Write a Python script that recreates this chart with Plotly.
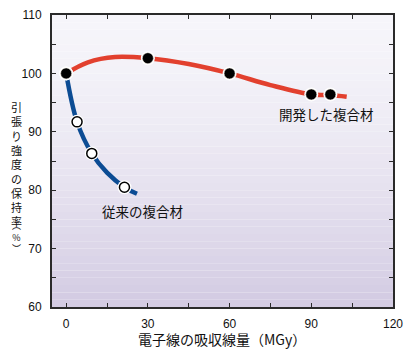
import plotly.graph_objects as go

# Data
dev_x = [0, 30, 60, 90, 97]
dev_y = [100, 102.6, 100, 96.4, 96.4]
dev_curve_x = [0, 8, 18, 30, 45, 60, 75, 90, 97, 103]
dev_curve_y = [100, 101.9, 102.8, 102.6, 101.6, 100, 98.0, 96.4, 96.3, 96.0]

conv_x = [0, 4, 9.4, 21.4]
conv_y = [100, 91.7, 86.3, 80.5]
conv_curve_x = [0, 4, 9.4, 15, 21.4, 26]
conv_curve_y = [100, 91.7, 86.3, 83.0, 80.5, 79.4]

x_ticks = [0, 30, 60, 90, 120]
y_ticks = [60, 70, 80, 90, 100, 110]
ytitle_chars = ["引", "張", "り", "強", "度", "の", "保", "持", "率"]
ytitle_tail = ["︵", "%", "︶"]

W, H = 410, 356
L, R, T, B = 52, 17, 15, 49
PW, PH = W - L - R, H - T - B

fig = go.Figure()

# lines
fig.add_trace(go.Scatter(x=dev_curve_x, y=dev_curve_y, mode="lines",
                         line=dict(color="#e2402e", width=4.5, shape="spline"),
                         hoverinfo="skip", showlegend=False))
fig.add_trace(go.Scatter(x=conv_curve_x, y=conv_curve_y, mode="lines",
                         line=dict(color="#0c4c94", width=4.5, shape="spline"),
                         hoverinfo="skip", showlegend=False))
# halos
fig.add_trace(go.Scatter(x=dev_x + conv_x, y=dev_y + conv_y, mode="markers",
                         marker=dict(size=14, color="white"),
                         showlegend=False, hoverinfo="skip"))
# markers
fig.add_trace(go.Scatter(x=conv_x[1:], y=conv_y[1:], mode="markers",
                         marker=dict(size=10, color="white", line=dict(color="black", width=1.5)),
                         showlegend=False))
fig.add_trace(go.Scatter(x=dev_x, y=dev_y, mode="markers",
                         marker=dict(size=11, color="black", line=dict(color="#f4eee6", width=0.5)),
                         showlegend=False))

# gradient background
n = 40
shapes = []
top = (246, 245, 250)
bot = (210, 202, 226)
for i in range(n):
    t = (i + 0.5) / n  # 0 top -> 1 bottom
    f = t ** 1.5
    c = tuple(int(round(top[k] + (bot[k] - top[k]) * f)) for k in range(3))
    shapes.append(dict(type="rect", xref="x domain", yref="y domain",
                       x0=0, x1=1, y0=1 - (i + 1) / n, y1=1 - i / n,
                       fillcolor="rgb(%d,%d,%d)" % c, line=dict(width=0), layer="below"))


def px_ann(text, px, py, size):
    return dict(text=text, x=(px - L) / PW, y=(H - B - py) / PH, xref="paper", yref="paper",
                xanchor="center", yanchor="middle", showarrow=False,
                font=dict(size=size, color="#111", family="Noto Sans CJK JP"))


annotations = [
    px_ann("開発した複合材", 326, 114, 13.5),
    px_ann("従来の複合材", 142, 211, 13.5),
    px_ann("電子線の吸収線量（MGy）", 222, 339, 14),
    px_ann("<br>".join(ytitle_chars), 16, 164, 11),
    px_ann("<br>".join(ytitle_tail), 16, 237, 9),
]

axis_common = dict(showgrid=False, zeroline=False, showline=True, linecolor="#2a2a2a", linewidth=2,
                   mirror="ticks", ticks="inside", ticklen=4, tickwidth=1.2, tickcolor="#2a2a2a",
                   automargin=False,
                   tickfont=dict(size=12, color="#111", family="Liberation Sans"))

fig.update_layout(
    width=W, height=H, margin=dict(l=L, r=R, t=T, b=B, autoexpand=False),
    paper_bgcolor="white", plot_bgcolor="white",
    shapes=shapes, annotations=annotations,
    xaxis=dict(range=[-5.2, 120], tickvals=x_ticks, ticklabelstandoff=5,
               minor=dict(dtick=15, tick0=0, ticks="inside", ticklen=4, tickwidth=1.2, tickcolor="#2a2a2a"),
               **axis_common),
    yaxis=dict(range=[60, 110], tickvals=y_ticks, ticklabelstandoff=6,
               minor=dict(dtick=5, tick0=0, ticks="inside", ticklen=4, tickwidth=1.2, tickcolor="#2a2a2a"),
               **axis_common),
)

fig.write_html("out.html", config={"displayModeBar": False},
               post_script="document.body.style.margin='0';document.body.style.overflow='hidden';")
